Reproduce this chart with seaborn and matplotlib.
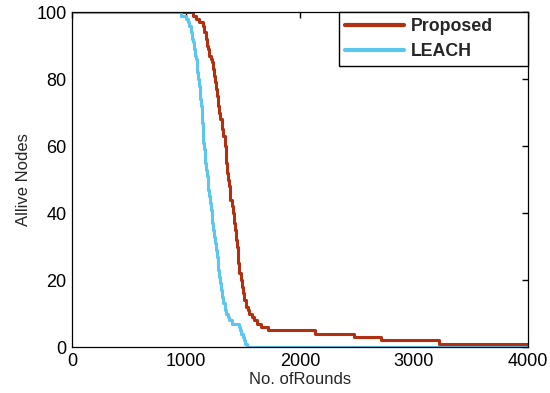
import numpy as np
import pandas as pd
import seaborn as sns
from matplotlib import pyplot as plt

# step data: (round where the count changes, alive nodes from there on)
proposed_rounds = [0, 1061, 1090, 1110, 1149, 1160, 1172, 1183, 1193, 1205, 1215, 1228, 1236,
                   1245, 1254, 1263, 1272, 1281, 1290, 1300, 1316, 1328, 1342, 1348, 1354,
                   1360, 1368, 1375, 1382, 1390, 1400, 1412, 1420, 1428, 1436, 1444, 1452,
                   1460, 1468, 1478, 1490, 1500, 1512, 1525, 1540, 1555, 1575, 1595, 1620,
                   1660, 1718, 2127, 2474, 2709, 3220, 4000]
proposed_alive = [100, 99, 98, 97, 96, 94, 92, 90, 89, 87, 86, 85, 83,
                  81, 79, 77, 75, 72, 70, 68, 65, 63, 60, 57, 55,
                  52, 50, 48, 46, 44, 42, 40, 37, 35, 32, 30, 27,
                  25, 22, 20, 18, 16, 14, 12, 11, 10, 9, 8, 7,
                  6, 5, 4, 3, 2, 1, 1]

leach_rounds = [0, 960, 1000, 1015, 1030, 1043, 1052, 1060, 1068, 1076, 1084, 1092, 1100,
                1108, 1114, 1120, 1126, 1131, 1136, 1140, 1145, 1150, 1156, 1162, 1168,
                1175, 1182, 1190, 1196, 1203, 1210, 1218, 1225, 1232, 1240, 1247, 1254,
                1262, 1270, 1277, 1284, 1292, 1300, 1308, 1316, 1326, 1338, 1350, 1365,
                1380, 1399, 1461, 1472, 1484, 1498, 1508, 1520, 1532, 4000]
leach_alive = [100, 99, 98, 97, 96, 94, 92, 91, 89, 87, 86, 84, 82,
               80, 78, 76, 74, 72, 70, 67, 64, 61, 59, 57, 55,
               53, 51, 49, 47, 45, 43, 41, 39, 37, 35, 33, 31,
               29, 27, 25, 23, 21, 19, 17, 15, 13, 11, 10, 9,
               8, 7, 6, 5, 4, 3, 2, 1, 0, 0]

x_ticks = [0, 1000, 2000, 3000, 4000]
y_ticks = [0, 20, 40, 60, 80, 100]

df = pd.concat([
    pd.DataFrame({'rounds': proposed_rounds, 'alive': proposed_alive, 'method': 'Proposed'}),
    pd.DataFrame({'rounds': leach_rounds, 'alive': leach_alive, 'method': 'LEACH'}),
])

sns.set_style('white')
plt.rcParams['font.family'] = ['Liberation Sans', 'DejaVu Sans']

fig = plt.figure(figsize=(5.5, 3.93), dpi=100)
ax = fig.add_axes([0.131, 0.117, 0.829, 0.852])

palette = {'Proposed': '#b2300f', 'LEACH': '#5bc6ee'}
sns.lineplot(data=df, x='rounds', y='alive', hue='method', palette=palette,
             estimator=None, sort=False, drawstyle='steps-post', linewidth=2.2, ax=ax)

ax.set_xlim(0, 4000)
ax.set_ylim(0, 100)
ax.set_xticks(x_ticks)
ax.set_yticks(y_ticks)
ax.tick_params(direction='in', top=True, right=True, length=4, width=1,
               labelsize=13, colors='black', pad=4)
for s in ax.spines.values():
    s.set_color('black')
    s.set_linewidth(0.9)
ax.set_xlabel('No. ofRounds', fontsize=12, labelpad=2)
ax.set_ylabel('Allive Nodes', fontsize=12, labelpad=4)

# legend box stretched to the right edge like the original
leg = ax.legend(loc='upper left', bbox_to_anchor=(0.586, 0, 0.414, 1), mode='expand',
                borderaxespad=0, frameon=True, fancybox=False,
                edgecolor='black', framealpha=1, handlelength=3.3, handletextpad=0.4,
                fontsize=12.8, borderpad=0.35, labelspacing=0.42)
leg.get_frame().set_linewidth(1)
for t in leg.get_texts():
    t.set_fontweight('bold')
for l in leg.get_lines():
    l.set_linewidth(3)

fig.savefig('out.png', dpi=100)
